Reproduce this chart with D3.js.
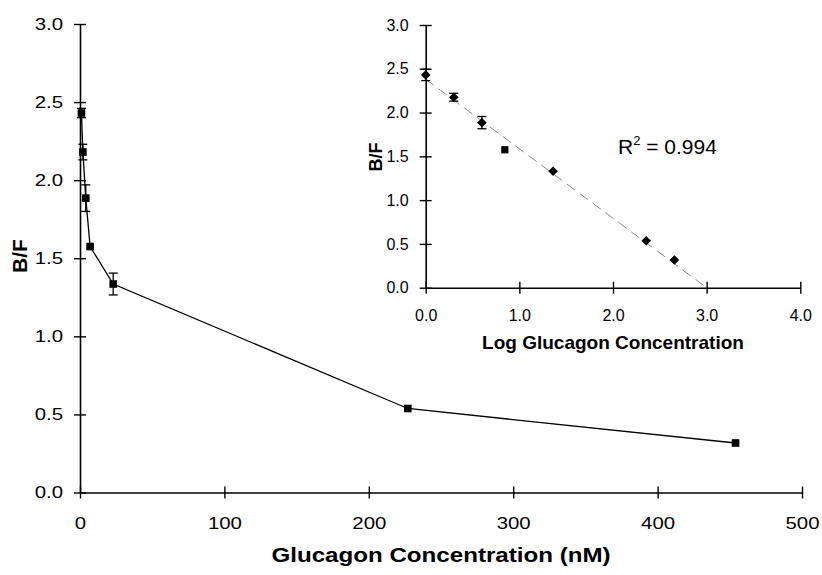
<!DOCTYPE html>
<html><head><meta charset="utf-8">
<script src="https://cdn.jsdelivr.net/npm/d3@7"></script>
<style>body{margin:0;background:#fff}svg{display:block}text{font-family:"Liberation Sans",Arial,sans-serif;fill:#000}</style>
</head><body><svg id="c" width="822" height="575"></svg>
<script>
// Data
const conc = [1, 2, 4, 7, 23, 227, 454];            // nM
const bf = [2.43, 2.18, 1.885, 1.575, 1.335, 0.538, 0.317];
const bfErr = [0.03, 0.05, 0.085, 0.01, 0.07, 0.01, 0.01];
const logConc = [0.0, 0.30, 0.60, 0.845, 1.36, 2.355, 2.655];
const logBf = [2.43, 2.175, 1.885, 1.575, 1.33, 0.537, 0.316];
const logErr = [0.065, 0.045, 0.07, 0.015, 0.01, 0.01, 0.01];
const logShape = ["d", "d", "d", "s", "d", "d", "d"];
const trend = [[0, 2.38], [3.0, 0]];
const mainXTicks = [0, 100, 200, 300, 400, 500];
const mainYTicks = [0, 0.5, 1.0, 1.5, 2.0, 2.5, 3.0];
const insetXTicks = [0, 1, 2, 3, 4];
const insetYTicks = [0, 0.5, 1.0, 1.5, 2.0, 2.5, 3.0];
const rsqText = "0.994";

const svg = d3.select("#c");

function axesFor(g, x, y, xt, yt, fs, sx, xfmt, yfmt, xlabOff){
  const xa = d3.axisBottom(x).tickValues(xt).tickFormat(xfmt).tickSizeInner(6).tickSizeOuter(0).tickPadding(xlabOff);
  const ya = d3.axisLeft(y).tickValues(yt).tickFormat(yfmt).tickSizeInner(6).tickSizeOuter(0).tickPadding(11);
  const gx = g.append("g").attr("transform", `translate(0,${y(0)})`).call(xa);
  const gy = g.append("g").attr("transform", `translate(${x(0)},0)`).call(ya);
  [gx, gy].forEach(a => {
    a.select(".domain").attr("stroke", "#000").attr("stroke-width", 1.6);
    a.selectAll(".tick line").attr("stroke", "#000").attr("stroke-width", 1.4);
    a.selectAll("text").attr("font-size", fs).attr("font-family", "Liberation Sans, Arial, sans-serif").attr("fill", "#000");
  });
  gx.selectAll("text").attr("transform", `scale(${sx},1)`);
  gy.selectAll("text").attr("x", -17 / sx).attr("transform", `scale(${sx},1)`);
  // ticks cross the axis
  gx.selectAll(".tick line").attr("y1", -6).attr("y2", 6);
  gy.selectAll(".tick line").attr("x1", -6).attr("x2", 6);
  return [gx, gy];
}

// ---- Main chart ----
const x = d3.scaleLinear().domain([0, 500]).range([80, 802]);
const y = d3.scaleLinear().domain([0, 3]).range([492.5, 24]);
const main = svg.append("g");
axesFor(main, x, y, mainXTicks, mainYTicks, 17, 1.2, d3.format("d"), d3.format(".1f"), 18);

const pts = conc.map((c, i) => ({x: c, y: bf[i], e: bfErr[i]}));
main.append("path").datum(pts)
  .attr("d", d3.line().x(d => x(d.x)).y(d => y(d.y)))
  .attr("fill", "none").attr("stroke", "#000").attr("stroke-width", 1.3);
const eb = main.append("g").attr("stroke", "#000").attr("stroke-width", 1.3);
pts.forEach(d => {
  if (y(d.y - d.e) - y(d.y + d.e) < 6) return;
  eb.append("line").attr("x1", x(d.x)).attr("x2", x(d.x)).attr("y1", y(d.y - d.e)).attr("y2", y(d.y + d.e));
  [d.y - d.e, d.y + d.e].forEach(v => eb.append("line").attr("x1", x(d.x) - 4.5).attr("x2", x(d.x) + 4.5).attr("y1", y(v)).attr("y2", y(v)));
});
main.selectAll("rect.m").data(pts).enter().append("rect")
  .attr("x", d => x(d.x) - 3.8).attr("y", d => y(d.y) - 3.8).attr("width", 7.6).attr("height", 7.6).attr("fill", "#000");

main.append("text").attr("transform", `translate(${x(250)},562) scale(1.15,1)`).attr("text-anchor", "middle")
  .attr("font-size", 21).attr("font-weight", "bold").text("Glucagon Concentration (nM)");
main.append("text").attr("transform", "translate(26.5,256) rotate(-90)").attr("text-anchor", "middle")
  .attr("font-size", 21).attr("font-weight", "bold").text("B/F");

// ---- Inset ----
const xi = d3.scaleLinear().domain([0, 4]).range([425.7, 800.3]);
const yi = d3.scaleLinear().domain([0, 3]).range([287.7, 25]);
const ins = svg.append("g");
axesFor(ins, xi, yi, insetXTicks, insetYTicks, 16, 1.0, d3.format(".1f"), d3.format(".1f"), 16);

ins.append("path").datum(trend)
  .attr("d", d3.line().x(d => xi(d[0])).y(d => yi(d[1])))
  .attr("fill", "none").attr("stroke", "#8a8a8a").attr("stroke-width", 1).attr("stroke-dasharray", "10,6");

const ipts = logConc.map((c, i) => ({x: c, y: logBf[i], e: logErr[i], s: logShape[i]}));
const ieb = ins.append("g").attr("stroke", "#000").attr("stroke-width", 1.3);
ipts.forEach(d => {
  if (yi(d.y - d.e) - yi(d.y + d.e) < 5) return;
  ieb.append("line").attr("x1", xi(d.x)).attr("x2", xi(d.x)).attr("y1", yi(d.y - d.e)).attr("y2", yi(d.y + d.e));
  [d.y - d.e, d.y + d.e].forEach(v => ieb.append("line").attr("x1", xi(d.x) - 4.5).attr("x2", xi(d.x) + 4.5).attr("y1", yi(v)).attr("y2", yi(v)));
});
ins.selectAll("path.mk").data(ipts).enter().append("path")
  .attr("transform", d => `translate(${xi(d.x)},${yi(d.y)})`)
  .attr("d", d => d.s === "s" ? "M-3.6,-3.6H3.6V3.6H-3.6Z" : "M0,-4.8L4.8,0L0,4.8L-4.8,0Z")
  .attr("fill", "#000");

ins.append("text").attr("x", xi(2)).attr("y", 349).attr("text-anchor", "middle")
  .attr("font-size", 19).attr("font-weight", "bold").text("Log Glucagon Concentration");
ins.append("text").attr("transform", "translate(382,157) rotate(-90)").attr("text-anchor", "middle")
  .attr("font-size", 18).attr("font-weight", "bold").text("B/F");

const rt = ins.append("text").attr("x", 618).attr("y", 154).attr("font-size", 21);
rt.append("tspan").text("R");
rt.append("tspan").attr("font-size", 13).attr("dy", -9).text("2");
rt.append("tspan").attr("dy", 9).text(" = " + rsqText);
</script></body></html>
